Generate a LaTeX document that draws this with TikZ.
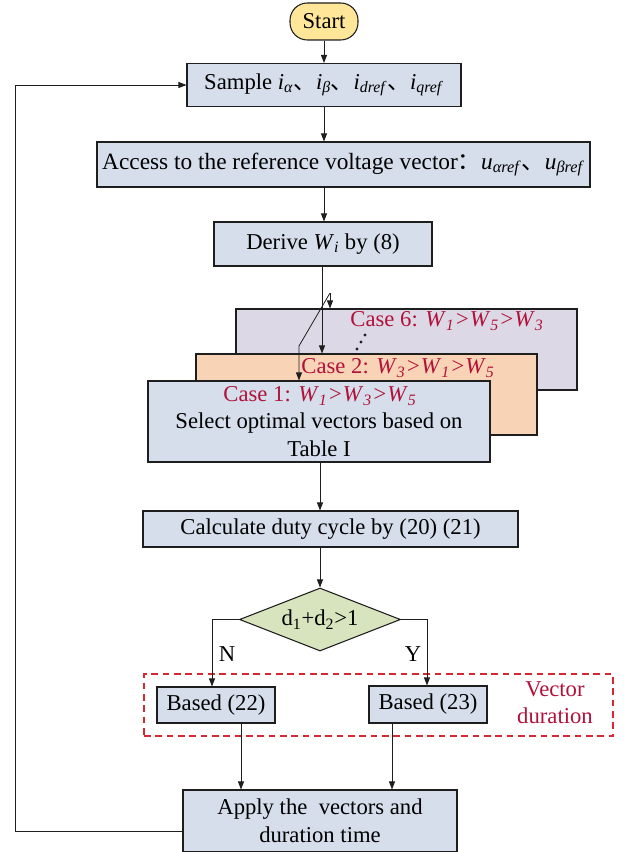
\documentclass[tikz,border=0pt]{standalone}
\usepackage{fontspec}
\setmainfont{Liberation Serif}
\newfontfamily\cjk{Noto Sans CJK SC}
\usetikzlibrary{arrows.meta,shapes.geometric}

\definecolor{boxblue}{HTML}{D5DEEA}
\definecolor{startyellow}{HTML}{FFE699}
\definecolor{casepurple}{HTML}{DDD8E6}
\definecolor{caseorange}{HTML}{F9D3B5}
\definecolor{decgreen}{HTML}{D7E4BD}
\definecolor{casered}{RGB}{176,18,58}
\definecolor{dashred}{RGB}{214,40,50}
\definecolor{ink}{HTML}{1E1E1E}

% italic symbol with italic subscript
\newcommand{\isub}[2]{\textit{#1}\textsubscript{\textit{#2}}}
\newcommand{\dun}{{\cjk 、}}

\begin{document}
\begin{tikzpicture}[x=0.75pt,y=-0.75pt,
  every node/.style={font=\fontsize{17}{20}\selectfont, inner sep=0pt},
  proc/.style={draw=ink, line width=0.8pt, fill=boxblue, align=center},
  conn/.style={draw=ink, line width=0.6pt, -{Triangle[length=6pt,width=4.5pt]}},
  casetext/.style={text=casered},
]
\useasboundingbox (0,0) rectangle (628,852);

% main chain
\node[proc, fill=startyellow, rounded corners=13pt, minimum width=51pt, minimum height=27.75pt] (start) at (324,21.5) {Start};
\node[proc, minimum width=205.5pt, minimum height=32.25pt] (sample) at (324,85)
  {Sample \isub{i}{α}\dun\isub{i}{β}\dun\isub{i}{dref}\dun\isub{i}{qref}};
\node[proc, minimum width=369.75pt, minimum height=33.75pt, font=\fontsize{17.5}{21}\selectfont] (access) at (343.5,164.5)
  {Access to the reference voltage vector{\cjk ：}\isub{u}{αref}\dun\isub{u}{βref}};
\node[proc, minimum width=163.5pt, minimum height=33pt] (derive) at (323,244) {Derive \isub{W}{i} by (8)};

% stacked case cards
\node[proc, fill=casepurple, minimum width=255.75pt, minimum height=60.75pt] (case6) at (406.5,349.5) {};
\node[proc, fill=caseorange, minimum width=255.75pt, minimum height=60.75pt] (case2) at (366.5,394.5) {};
\node[proc, minimum width=256.5pt, minimum height=60.75pt] (case1) at (319,421.5) {};
\node[casetext] (case6t) at (447,321) {Case 6: \isub{W}{1}\textit{>}\isub{W}{5}\textit{>}\isub{W}{3}};
\node[casetext] (case2t) at (398,368) {Case 2: \isub{W}{3}\textit{>}\isub{W}{1}\textit{>}\isub{W}{5}};
\node[casetext] (case1t) at (320,396) {Case 1: \isub{W}{1}\textit{>}\isub{W}{3}\textit{>}\isub{W}{5}};
\node (case1a) at (319,423) {Select optimal vectors based on};
\node (case1b) at (319,449) {Table I};
\fill[ink] (365,335) circle (1.3pt) (361,342) circle (1.3pt) (357,349) circle (1.3pt);

\node[proc, minimum width=281.25pt, minimum height=27pt] (calc) at (330.5,529) {Calculate duty cycle by (20) (21)};
\node[draw=ink, line width=0.8pt, fill=decgreen, diamond, aspect=2.56, minimum width=120.75pt, minimum height=47.25pt] (dec) at (320,619.5)
  {d\textsubscript{1}+d\textsubscript{2}>1};

% vector duration group
\node[draw=dashred, line width=0.8pt, dash pattern=on 5pt off 3.5pt, minimum width=351.75pt, minimum height=46.5pt] (durgroup) at (378.5,705) {};
\node[proc, minimum width=88.5pt, minimum height=27pt] (based22) at (216,705) {Based (22)};
\node[proc, minimum width=88.5pt, minimum height=27.75pt] (based23) at (428,704.5) {Based (23)};
\node[text=casered, align=center, font=\fontsize{17}{20}\selectfont] (durlabel) at (555,702.5) {Vector\\duration};

\node[proc, minimum width=205.5pt, minimum height=46.5pt, font=\fontsize{17}{21}\selectfont] (apply) at (320,821)
  {Apply the\ \ vectors and\\duration time};

\node (nlab) at (227,654) {N};
\node (ylab) at (413,654) {Y};

% connectors
\draw[conn] (start) -- (sample);
\draw[conn] (sample.south) -- (sample.south |- access.north);
\draw[conn] (sample.south |- access.south) -- (sample.south |- derive.north);
\draw[conn] ([xshift=-0.75pt]derive.south) -- ([xshift=-0.75pt]derive.south |- case2.north);
\coordinate (fork) at (330,293);
\coordinate (bend) at (299,346);
\draw[conn] (fork) -- (bend) -- (bend |- case1.north);
\draw[conn] (fork) -- (fork |- case6.north);
\draw[conn] ([xshift=0.75pt]case1.south) -- ([xshift=0.75pt]case1.south |- calc.north);
\draw[conn] (dec.north |- calc.south) -- (dec.north);
\draw[conn] (dec.west) -| ([xshift=-3pt]based22.north);
\draw[conn] (dec.east) -| ([xshift=-0.75pt]based23.north);
\draw[conn] ([xshift=18.75pt]based22.south) -- ([xshift=18.75pt]based22.south |- apply.north);
\draw[conn] ([xshift=-27pt]based23.south) -- ([xshift=-27pt]based23.south |- apply.north);
\coordinate (loopx) at (15,0);
\draw[conn] ([yshift=-7.5pt]apply.west) -| (loopx |- sample.west) -- (sample.west);
\end{tikzpicture}
\end{document}
